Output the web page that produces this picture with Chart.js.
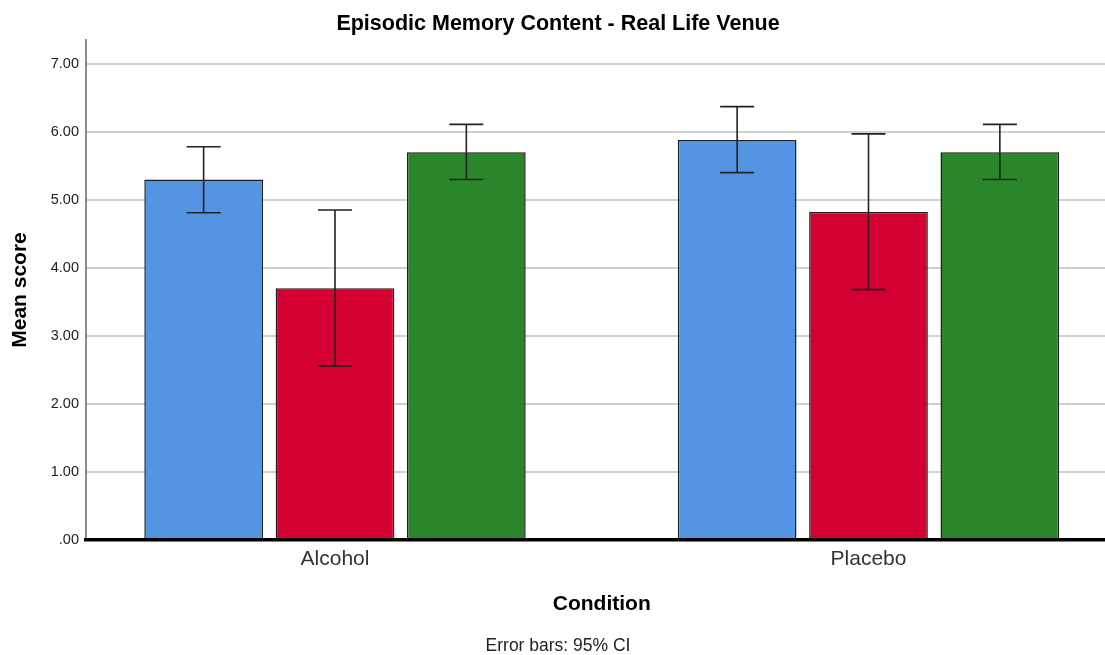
<!DOCTYPE html>
<html lang="en">
<head>
<meta charset="utf-8">
<title>Episodic Memory Content - Real Life Venue</title>
<script src="https://cdn.jsdelivr.net/npm/chart.js@4.4.1/dist/chart.umd.min.js"></script>
<style>
    html, body { margin: 0; padding: 0; background: #ffffff; }
    #chart-wrap { position: relative; width: 1105px; height: 655px; }
</style>
</head>
<body>
<div id="chart-wrap"><canvas id="memoryChart"></canvas></div>
<script>
// Conditions along the x axis
const conditions = ['Alcohol', 'Placebo'];

// Mean scores for each group, one value per condition
const group1Means = [5.30, 5.88];
const group2Means = [3.70, 4.82];
const group3Means = [5.70, 5.70];

// 95% confidence interval bounds
const group1Lower = [4.81, 5.40];
const group1Upper = [5.78, 6.37];
const group2Lower = [2.56, 3.68];
const group2Upper = [4.85, 5.97];
const group3Lower = [5.30, 5.30];
const group3Upper = [6.11, 6.11];

// Value axis ticks
const yTicks = [0, 1, 2, 3, 4, 5, 6, 7];

const colors = ['#5394e3', '#d50032', '#2a862a'];

/**
 * Turn a list of means into {x, y} points on the linear condition axis
 */
function toPoints(values) {
    return values.map((v, i) => ({ x: i, y: v }));
}

/**
 * Draws the confidence interval whiskers on top of every bar
 */
const errorBarPlugin = {
    id: 'errorBars',
    afterDatasetsDraw(chart, args, opts) {
        const { ctx } = chart;
        const yScale = chart.scales.y;
        ctx.save();
        ctx.strokeStyle = opts.color;
        ctx.lineWidth = opts.lineWidth;
        chart.data.datasets.forEach((dataset, di) => {
            const meta = chart.getDatasetMeta(di);
            meta.data.forEach((bar, i) => {
                const top = yScale.getPixelForValue(dataset.upper[i]);
                const bottom = yScale.getPixelForValue(dataset.lower[i]);
                const half = opts.capWidth / 2;
                ctx.beginPath();
                ctx.moveTo(bar.x, top);
                ctx.lineTo(bar.x, bottom);
                ctx.moveTo(bar.x - half, top);
                ctx.lineTo(bar.x + half, top);
                ctx.moveTo(bar.x - half, bottom);
                ctx.lineTo(bar.x + half, bottom);
                ctx.stroke();
            });
        });
        ctx.restore();
    }
};

/**
 * Category axis title, centred between the two condition groups
 */
const axisCaptionPlugin = {
    id: 'axisCaption',
    afterDraw(chart, args, opts) {
        const { ctx } = chart;
        const xScale = chart.scales.x;
        const first = xScale.getPixelForValue(0);
        const last = xScale.getPixelForValue(conditions.length - 1);
        ctx.save();
        ctx.font = opts.font;
        ctx.fillStyle = opts.color;
        ctx.textAlign = 'center';
        ctx.textBaseline = 'middle';
        ctx.fillText(opts.text, (first + last) / 2, opts.y);
        ctx.restore();
    }
};

const datasets = [
    { label: 'Group 1', data: toPoints(group1Means), lower: group1Lower, upper: group1Upper, backgroundColor: colors[0] },
    { label: 'Group 2', data: toPoints(group2Means), lower: group2Lower, upper: group2Upper, backgroundColor: colors[1] },
    { label: 'Group 3', data: toPoints(group3Means), lower: group3Lower, upper: group3Upper, backgroundColor: colors[2] }
].map(ds => Object.assign(ds, {
    borderColor: '#1e1e1e',
    borderWidth: 1.5,
    categoryPercentage: 0.7386,
    barPercentage: 0.9037
}));

Chart.defaults.font.family = '"Liberation Sans", Arial, sans-serif';

new Chart(document.getElementById('memoryChart'), {
    type: 'bar',
    data: { datasets: datasets },
    plugins: [errorBarPlugin, axisCaptionPlugin],
    options: {
        responsive: true,
        maintainAspectRatio: false,
        animation: false,
        layout: {
            padding: { left: 11, right: 0, top: 0, bottom: 0 }
        },
        plugins: {
            legend: { display: false },
            tooltip: { enabled: false },
            title: {
                display: true,
                text: 'Episodic Memory Content - Real Life Venue',
                color: '#000000',
                font: { size: 21.5, weight: 'bold' },
                padding: { top: 11.5, bottom: 2.7 }
            },
            subtitle: {
                display: true,
                position: 'bottom',
                text: 'Error bars: 95% CI',
                color: '#222222',
                font: { size: 17.5, weight: 'normal', lineHeight: 1 },
                padding: { top: 0, bottom: 0 }
            },
            errorBars: {
                color: '#222222',
                lineWidth: 1.6,
                capWidth: 34
            },
            axisCaption: {
                text: 'Condition',
                font: 'bold 21px "Liberation Sans", Arial, sans-serif',
                color: '#000000',
                y: 604.7
            }
        },
        scales: {
            x: {
                type: 'linear',
                offset: false,
                min: -0.4667,
                max: 1.4433,
                afterBuildTicks: scale => {
                    scale.ticks = conditions.map((c, i) => ({ value: i }));
                },
                afterFit: scale => {
                    scale.height = 97.5;
                },
                grid: { display: false, drawTicks: false, offset: false },
                border: { display: true, color: '#000000', width: 3.5, z: 1 },
                ticks: {
                    color: '#333333',
                    font: { size: 21 },
                    padding: 7,
                    maxRotation: 0,
                    autoSkip: false,
                    callback: value => conditions[value] ?? ''
                }
            },
            y: {
                min: 0,
                max: 7.35,
                afterBuildTicks: scale => {
                    scale.ticks = yTicks.map(v => ({ value: v }));
                },
                afterFit: scale => {
                    scale.width = 75;
                },
                grid: {
                    drawTicks: false,
                    lineWidth: 2,
                    color: ctx => (ctx.tick && ctx.tick.value === 0) ? 'rgba(0,0,0,0)' : '#d0d0d0'
                },
                border: { display: true, color: '#8a8a8a', width: 2 },
                ticks: {
                    color: '#222222',
                    font: { size: 14.5 },
                    padding: 7,
                    callback: value => value === 0 ? '.00' : value.toFixed(2)
                },
                title: {
                    display: true,
                    text: 'Mean score',
                    color: '#000000',
                    font: { size: 21, weight: 'bold', lineHeight: 1 },
                    padding: { top: -1.5, bottom: 0 }
                }
            }
        }
    }
});
</script>
</body>
</html>
